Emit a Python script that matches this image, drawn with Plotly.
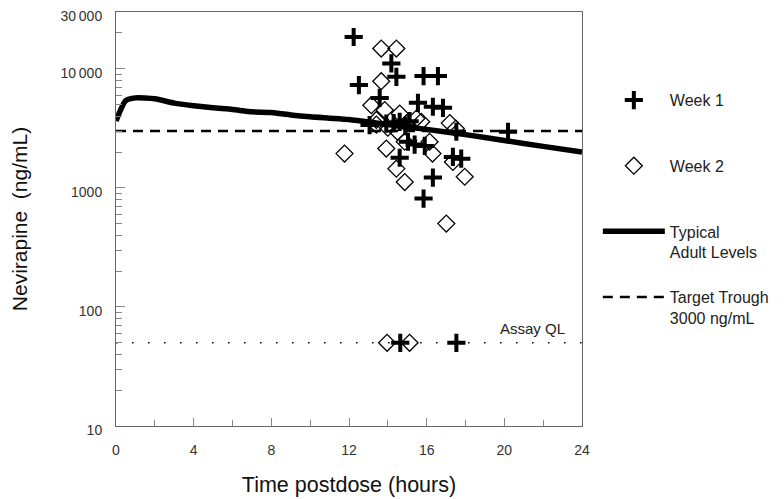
import plotly.graph_objects as go

# ---- data ----
week1_t = [12.24, 12.51, 14.18, 14.44, 15.84, 16.58, 13.58, 15.55, 16.32, 16.84,
           13.06, 13.92, 14.61, 15.12, 17.53, 20.19, 15.04, 15.38, 15.90, 14.61,
           17.35, 17.78, 16.32, 15.84, 14.64, 17.53, 14.30, 14.90]
week1_v = [18500, 7300, 11100, 8570, 8690, 8690, 5700, 5180, 4800, 4700,
           3370, 3470, 3590, 3630, 2960, 2960, 2440, 2310, 2250, 1790,
           1820, 1760, 1220, 813, 50, 50, 3500, 3300]

week2_t = [13.66, 14.44, 13.66, 13.15, 13.84, 14.61, 13.41, 13.41, 14.95, 14.00,
           14.50, 15.47, 15.72, 17.19, 17.50, 11.77, 13.92, 14.87, 16.15, 16.30,
           17.35, 14.44, 14.87, 17.96, 17.01, 13.96, 15.12]
week2_v = [14800, 14800, 7870, 4950, 4500, 4210, 3720, 3400, 3470, 3200,
           2960, 3820, 3590, 3500, 3150, 1940, 2140, 2440, 2440, 1940,
           1650, 1450, 1120, 1240, 501, 50, 50]

adult_t = [0, 0.5, 1, 2, 3, 4, 5, 6, 7, 8, 9, 10, 11, 12, 14, 16, 18, 20, 22, 24]
adult_v = [3640, 5400, 5700, 5600, 5150, 4900, 4700, 4550, 4350, 4300, 4100, 3950,
           3850, 3750, 3400, 3100, 2800, 2500, 2230, 2000]

target_t = [0, 24]
target_v = [3000, 3000]

assay_t = [0, 24]
assay_v = [50, 50]

x_ticks = [0, 4, 8, 12, 16, 20, 24]
y_ticks = [10, 100, 1000, 10000, 30000]
y_ticklabels = ["10", "100", "1000", "10\u2009000", "30\u2009000"]

FONT = "Liberation Sans, Arial, sans-serif"

fig = go.Figure()

fig.add_trace(go.Scatter(
    x=assay_t, y=assay_v, mode="lines", showlegend=False, hoverinfo="skip",
    line=dict(color="#111", width=1.6, dash="1.6px,14.4px")))

fig.add_trace(go.Scatter(
    x=week1_t, y=week1_v, mode="markers", name="Week 1<br>\u00a0", legendgroup="a",
    marker=dict(symbol="cross-thin", size=13, color="black",
                line=dict(color="black", width=4))))

fig.add_trace(go.Scatter(
    x=week2_t, y=week2_v, mode="markers", name="Week 2<br>\u00a0", legendgroup="b",
    marker=dict(symbol="diamond-open", size=13, color="black",
                line=dict(color="black", width=1.3))))

fig.add_trace(go.Scatter(
    x=adult_t, y=adult_v, mode="lines", name="Typical<br>Adult Levels", legendgroup="c",
    line=dict(color="black", width=5.5, shape="spline", smoothing=0.6)))

fig.add_trace(go.Scatter(
    x=target_t, y=target_v, mode="lines", name="Target Trough<br>3000 ng/mL", legendgroup="d",
    line=dict(color="black", width=2.5, dash="10px,7px")))

fig.add_annotation(x=21.43, y=1.815, xref="x", yref="y", text="Assay QL",
                   showarrow=False, font=dict(family=FONT, size=15, color="#222"))

axis_common = dict(showline=True, linecolor="#666", linewidth=1, mirror=True,
                   showgrid=False, zeroline=False, ticks="inside",
                   tickcolor="#888", tickwidth=1, automargin=False,
                   ticklabeloverflow="allow",
                   tickfont=dict(family=FONT, size=14, color="#333"))

fig.update_xaxes(range=[0, 24], tickvals=x_ticks, ticklen=8,
                 minor=dict(tickvals=[2, 6, 10, 14, 18, 22], ticks="inside",
                            ticklen=6, tickcolor="#888"),
                 title=dict(text="Time postdose (hours)",
                            font=dict(family=FONT, size=21.5, color="#111"), standoff=20),
                 ticklabelstandoff=11,
                 **axis_common)

minor_y = []
for dec in [10, 100, 1000]:
    for k in range(2, 10):
        minor_y.append(dec * k)
minor_y.append(20000)

fig.update_yaxes(type="log", range=[1, 4.47716], tickvals=y_ticks, ticktext=y_ticklabels,
                 ticklen=9, ticklabelshift=4,
                 minor=dict(tickvals=minor_y, ticks="inside", ticklen=6, tickcolor="#888"),
                 title=dict(text="Nevirapine\u00a0 (ng/mL)",
                            font=dict(family=FONT, size=21, color="#111"), standoff=39),
                 ticklabelstandoff=10,
                 **axis_common)

fig.update_layout(
    width=776, height=491,
    margin=dict(l=108, r=202, t=4, b=73),
    paper_bgcolor="white", plot_bgcolor="white",
    font=dict(family=FONT, size=14, color="#222"),
    legend=dict(x=1.034, y=0.828, xanchor="left", yanchor="top",
                traceorder="grouped", tracegroupgap=21, valign="top",
                itemwidth=62, font=dict(family=FONT, size=16, color="#222"),
                bgcolor="rgba(0,0,0,0)"),
)

fig.write_html("out.html")
